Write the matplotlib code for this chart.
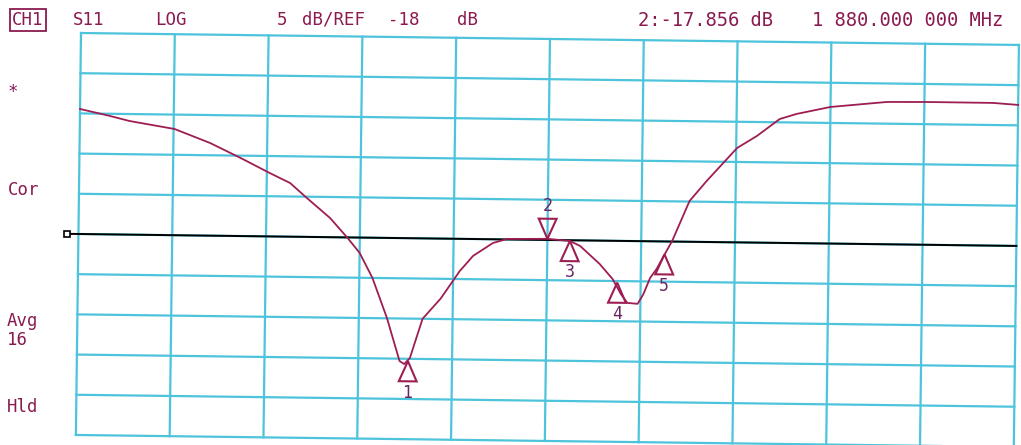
import matplotlib
matplotlib.use("Agg")
import matplotlib.pyplot as plt
from matplotlib.transforms import Affine2D
from matplotlib.patches import Polygon

# S11 trace: x in grid divisions (0..10), y in dB
trace_div = [0.0, 0.32, 0.53, 1.01, 1.39, 1.72, 2.03, 2.25, 2.43, 2.68, 2.87,
             3.00, 3.14, 3.30, 3.44, 3.49, 3.55, 3.68, 3.87, 4.07, 4.21, 4.42,
             4.57, 5.0, 5.24, 5.35, 5.56, 5.70, 5.79, 5.86, 5.97, 6.03, 6.10,
             6.17, 6.26, 6.33, 6.42, 6.51, 6.69, 7.01, 7.22, 7.46, 7.64, 8.0,
             8.6, 9.03, 9.73, 10.0]
trace_db = [-2.45, -3.27, -3.87, -4.79, -6.47, -8.30, -10.11, -11.33, -13.16,
            -15.61, -18.07, -19.9, -23.0, -27.96, -33.29, -33.66, -32.9, -28.0,
            -25.46, -22.0, -20.1, -18.46, -17.94, -17.86, -18.09, -18.7, -20.9,
            -22.75, -24.6, -25.7, -25.8, -24.6, -22.56, -21.4, -19.43, -17.93,
            -15.43, -12.93, -10.41, -6.26, -4.73, -2.59, -1.93, -1.01, -0.30,
            -0.24, -0.25, -0.46]

marker_ids = ["1", "2", "3", "4", "5"]
marker_div = [3.53, 5.0, 5.24, 5.75, 6.25]
marker_db = [-33.3, -17.86, -18.1, -23.2, -19.6]

ref_db = -18
scale_db = 5

grid_c = "#4ec4dc"
trace_c = "#9e1d52"
text_c = "#8a1a50"
mono = "DejaVu Sans Mono"

W, H = 1021, 445
fig = plt.figure(figsize=(W / 100, H / 100), dpi=100)
fig.patch.set_facecolor("white")
ax = fig.add_axes([81 / W, 10 / H, 938 / W, 402 / H])
ax.set_xlim(0, 10)
ax.set_ylim(ref_db - 5 * scale_db, ref_db + 5 * scale_db)
ax.axis("off")

# the printout was scanned a little crooked
rot = Affine2D().rotate_deg_around(81, H - 33, -0.73)
tr = ax.transData + rot

ylo, yhi = ax.get_ylim()
for i in range(11):
    ax.plot([i, i], [ylo, yhi], color=grid_c, lw=1.6, transform=tr, clip_on=False, zorder=1)
for k in range(11):
    y = ylo + k * scale_db
    ax.plot([0, 10], [y, y], color=grid_c, lw=1.6, transform=tr, clip_on=False, zorder=1)

# reference line
ax.plot([-0.1, 10], [ref_db, ref_db], color="black", lw=1.4, transform=tr, clip_on=False, zorder=3)
ax.plot(-0.12, ref_db, marker="s", ms=5, mfc="white", mec="black", mew=1.2,
        transform=tr, clip_on=False, zorder=3)

ax.plot(trace_div, trace_db, color=trace_c, lw=1.3, transform=tr, clip_on=False, zorder=4)

# marker triangles
h = 2.5
w = 0.095
for mid, mx, my in zip(marker_ids, marker_div, marker_db):
    if mid == "2":
        pts = [(mx, my), (mx - w, my + h), (mx + w, my + h)]
        ly = my + h + 1.6
    else:
        pts = [(mx, my), (mx - w, my - h), (mx + w, my - h)]
        ly = my - h - 1.4
    ax.add_patch(Polygon(pts, closed=True, fill=False, ec=trace_c, lw=1.5,
                         transform=tr, clip_on=False, zorder=5))
    ax.text(mx, ly, mid, color="#6a2462", fontsize=12, family=mono,
            ha="center", va="center", transform=tr, zorder=5)


def label(px, py, s, size=12.5, **kw):
    fig.text(px / W, 1 - py / H, s, color=text_c, fontsize=size, family=mono,
             va="baseline", **kw)


# header line
label(12, 25, "CH1", bbox=dict(boxstyle="square,pad=0.12", fc="none", ec=text_c, lw=1.3))
label(73, 25, "S11")
label(155, 25, "LOG")
label(277, 25, "5")
label(302, 25, "dB/REF")
label(388, 25, "-18")
label(457, 25, "dB")
label(638, 26, "2:-17.856 dB", size=13.5)
label(812, 26, "1 880.000 000 MHz", size=13.5)

# left status labels
label(8, 97, "*")
label(8, 195, "Cor")
label(7, 326, "Avg")
label(7, 345, "16")
label(7, 412, "Hld")

fig.savefig("out.png", dpi=100, facecolor="white")
